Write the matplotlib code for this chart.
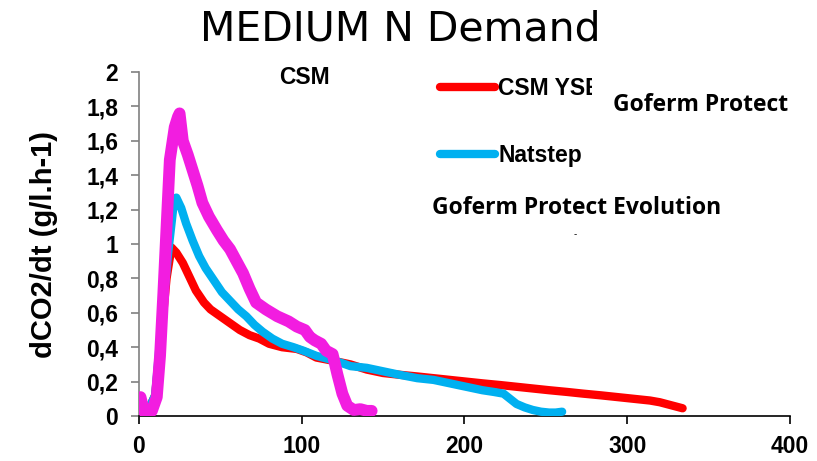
import matplotlib.pyplot as plt
from matplotlib.ticker import FuncFormatter
from matplotlib.patches import Rectangle

# values
csm_x = [5, 10, 14, 17, 20, 23, 27, 31, 35, 40, 44, 50, 56, 62, 68, 74, 80, 88, 97, 103, 109, 120, 130, 140, 150, 160, 171, 181, 191, 201, 211, 222, 232, 242, 252, 263, 273, 284, 294, 304, 314, 320, 326, 330, 334]
csm_y = [0.02, 0.12, 0.5, 0.8, 0.98, 0.95, 0.89, 0.81, 0.73, 0.66, 0.62, 0.58, 0.54, 0.50, 0.47, 0.45, 0.42, 0.40, 0.39, 0.37, 0.34, 0.32, 0.30, 0.27, 0.25, 0.24, 0.23, 0.22, 0.21, 0.20, 0.19, 0.18, 0.17, 0.16, 0.15, 0.14, 0.13, 0.12, 0.11, 0.10, 0.09, 0.08, 0.065, 0.055, 0.045]

nat_x = [5, 10, 14, 18, 21, 23, 26, 29, 33, 37, 41, 46, 51, 56, 61, 66, 71, 76, 82, 88, 95, 101, 109, 117, 124, 130, 140, 150, 160, 171, 181, 191, 201, 211, 218, 224, 228, 232, 237, 242, 247, 252, 256, 260]
nat_y = [0.02, 0.12, 0.55, 0.95, 1.2, 1.27, 1.21, 1.12, 1.02, 0.93, 0.86, 0.79, 0.72, 0.67, 0.62, 0.58, 0.53, 0.49, 0.45, 0.42, 0.40, 0.38, 0.35, 0.33, 0.31, 0.29, 0.28, 0.26, 0.24, 0.22, 0.21, 0.19, 0.17, 0.15, 0.14, 0.13, 0.10, 0.07, 0.05, 0.035, 0.025, 0.02, 0.02, 0.025]

gof_x = [0, 1, 3, 5, 8, 11, 13, 15, 17, 19, 22, 24, 25, 27, 30, 33, 36, 39, 43, 48, 52, 56, 60, 64, 68, 72, 78, 85, 92, 97, 102, 105, 108, 112, 115, 119, 122, 125, 128, 132, 136, 140, 143]
gof_y = [0.1, 0.11, 0.03, 0.0, 0.03, 0.11, 0.35, 0.71, 1.1, 1.49, 1.68, 1.74, 1.76, 1.6, 1.52, 1.43, 1.34, 1.24, 1.16, 1.08, 1.02, 0.97, 0.90, 0.83, 0.74, 0.66, 0.62, 0.58, 0.55, 0.52, 0.50, 0.46, 0.44, 0.42, 0.38, 0.36, 0.24, 0.13, 0.06, 0.035, 0.04, 0.03, 0.03]

y_ticks = [0, 0.2, 0.4, 0.6, 0.8, 1, 1.2, 1.4, 1.6, 1.8, 2]
x_ticks = [0, 100, 200, 300, 400]

plt.rcParams['font.family'] = ['Liberation Sans', 'DejaVu Sans']

fig = plt.figure(figsize=(8.17, 4.61), dpi=100)
ax = fig.add_axes([0.170, 0.0976, 0.797, 0.746])

lw = 6
l1, = ax.plot(csm_x, csm_y, color='#ff0000', linewidth=lw, solid_capstyle='round', solid_joinstyle='round', zorder=2)
l2, = ax.plot(nat_x, nat_y, color='#00b0f0', linewidth=lw, solid_capstyle='round', solid_joinstyle='round', zorder=3)
l3, = ax.plot(gof_x, gof_y, color='#f21de0', linewidth=8.5, solid_capstyle='round', solid_joinstyle='round', zorder=4)

ax.set_xlim(0, 400)
ax.set_ylim(0, 2)
ax.set_xticks(x_ticks)
ax.set_yticks(y_ticks)
ax.yaxis.set_major_formatter(FuncFormatter(lambda v, p: "{:g}".format(v).replace('.', ',')))
for lab in ax.get_xticklabels() + ax.get_yticklabels():
    lab.set_fontweight('bold')
    lab.set_fontsize(16.5)
ax.tick_params(axis='y', length=6, width=1.2, color='#808080', pad=9)
ax.tick_params(axis='x', length=6, width=1.2, color='black', pad=8)
ax.spines['top'].set_visible(False)
ax.spines['right'].set_visible(False)
ax.spines['left'].set_color('#808080')
ax.spines['left'].set_linewidth(1.2)
ax.spines['bottom'].set_linewidth(1.2)

ax.set_ylabel("dCO2/dt (g/l.h-1)", fontsize=21, fontweight='bold', labelpad=20)

fig.text(0.49, 0.936, "MEDIUM N Demand", ha='center', va='center', fontsize=29.5, family=['DejaVu Sans'])

# legend with two entries, first label cut off as in the source
leg = ax.legend([l1, l2], ["CSM YSE", "Natstep"], loc='upper left', bbox_to_anchor=(0.462, 0.985),
                frameon=False, borderpad=0, borderaxespad=0, handlelength=2.4, handletextpad=0.15,
                labelspacing=1.9, prop={'weight': 'bold', 'size': 16.5})
for h in leg.legend_handles:
    h.set_linewidth(6)
clip = Rectangle((0, 0), 592 / 817, 1, transform=fig.transFigure)
leg.get_texts()[0].set_clip_path(clip)
leg.get_texts()[0].set_clip_on(True)

ax.text(0.255, 0.985, "CSM", transform=ax.transAxes, ha='center', va='center',
        fontsize=16.5, fontweight='bold')
ax.text(0.863, 0.905, "Goferm Protect", transform=ax.transAxes, ha='center', va='center',
        fontsize=16.5, fontweight='bold', family=['Open Sans', 'DejaVu Sans'])
ax.text(0.673, 0.605, "Goferm Protect Evolution", transform=ax.transAxes, ha='center', va='center',
        fontsize=16.5, fontweight='bold', family=['Open Sans', 'DejaVu Sans'])
ax.text(0.670, 0.53, "-", transform=ax.transAxes, ha='center', va='center', fontsize=7)

fig.savefig("out.png", dpi=100)
